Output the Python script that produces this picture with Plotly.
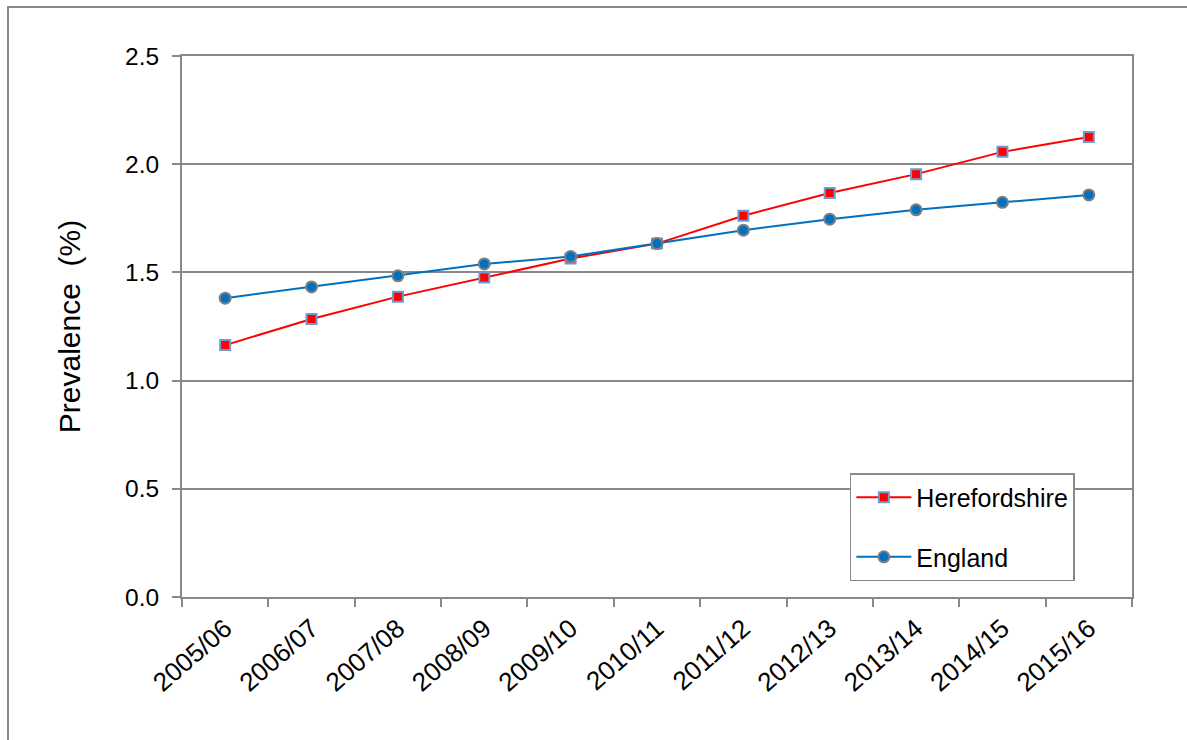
import plotly.graph_objects as go

categories = ["2005/06", "2006/07", "2007/08", "2008/09", "2009/10", "2010/11",
              "2011/12", "2012/13", "2013/14", "2014/15", "2015/16"]
herefordshire = [1.164, 1.285, 1.388, 1.476, 1.564, 1.633, 1.762, 1.867, 1.954, 2.057, 2.126]
england = [1.381, 1.433, 1.484, 1.539, 1.573, 1.633, 1.695, 1.746, 1.789, 1.824, 1.858]
y_ticks = [0.0, 0.5, 1.0, 1.5, 2.0, 2.5]

FONT = "Liberation Sans, Arial, sans-serif"
GRAY = "#898989"

fig = go.Figure()
fig.add_trace(go.Scatter(
    x=categories, y=herefordshire, name="Herefordshire", mode="lines+markers",
    line=dict(color="#ff0000", width=2),
    marker=dict(symbol="square", size=10, color="#ff0000",
                line=dict(color="#6f9bd1", width=2)),
    legendgroup="a",
))
fig.add_trace(go.Scatter(
    x=categories, y=england, name="England", mode="lines+markers",
    line=dict(color="#0070c0", width=2),
    marker=dict(symbol="circle", size=11, color="#0070c0",
                line=dict(color="#7f7f7f", width=2)),
    legendgroup="b",
))

fig.update_layout(
    width=1187, height=740,
    margin=dict(l=182, r=55, t=56, b=143),
    paper_bgcolor="white", plot_bgcolor="white",
    font=dict(family=FONT, color="black", size=24),
    showlegend=True,
    legend=dict(
        x=0.703, y=0.229, xanchor="left", yanchor="top",
        bordercolor=GRAY, borderwidth=1.5, bgcolor="white",
        font=dict(size=25, family=FONT, color="black"),
        traceorder="grouped", tracegroupgap=24,
        itemwidth=55,
    ),
    xaxis=dict(
        type="category", tickson="boundaries", ticks="outside", ticklen=8,
        tickcolor=GRAY, tickwidth=1.5, tickangle=-41,
        showline=True, linecolor=GRAY, linewidth=2, mirror=True,
        showgrid=False, tickfont=dict(size=26),
        ticklabelstandoff=4,
        range=[-0.5, len(categories) - 0.5],
    ),
    yaxis=dict(
        range=[0, 2.5], tickvals=y_ticks, tickformat=".1f",
        ticks="outside", ticklen=8, tickcolor=GRAY, tickwidth=1.5,
        showline=True, linecolor=GRAY, linewidth=2, mirror=True,
        showgrid=True, gridcolor=GRAY, gridwidth=1.5,
        zeroline=False, tickfont=dict(size=24.5),
        ticklabelstandoff=8,
        title=dict(text="Prevalence\u00a0\u00a0(%)", font=dict(size=30), standoff=36),
    ),
    shapes=[dict(
        type="rect", xref="paper", yref="paper",
        x0=(8 - 182) / 950, x1=1.3, y0=-0.5, y1=(597 - 7) / 541,
        line=dict(color=GRAY, width=2), fillcolor="rgba(0,0,0,0)",
    )],
)

fig.write_html("out.html")
